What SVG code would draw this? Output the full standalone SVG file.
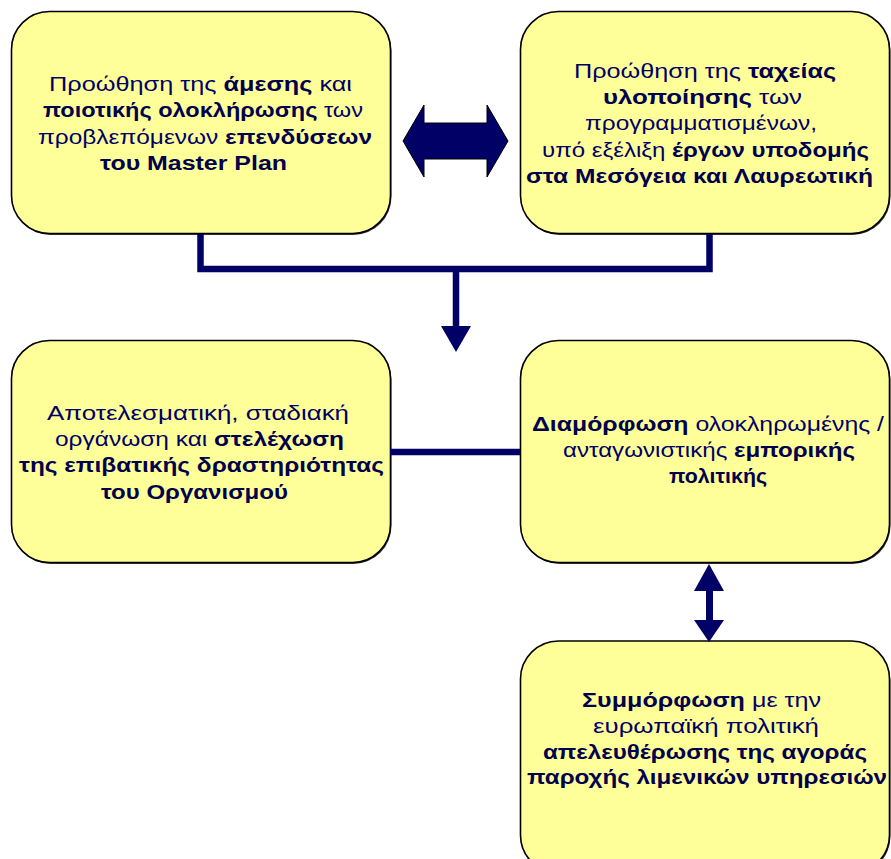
<svg xmlns="http://www.w3.org/2000/svg" width="891" height="859" viewBox="0 0 891 859">
  <style>
    .box { fill: #FFFF99; stroke: #000000; stroke-width: 1.6; }
    .shadow { fill: #3a3a3a; }
    .t { font-family: "Liberation Sans", Arial, sans-serif; font-size: 19.5px; fill: #000066; }
    .b { font-weight: bold; fill: #00004d; }
    .line { fill: none; stroke: #000066; stroke-width: 6.5; }
    .head { fill: #000066; }
    .fat { fill: #000066; stroke: #000000; stroke-width: 1; stroke-linejoin: miter; }
  </style>

  <rect width="891" height="859" fill="#ffffff"/>

  <!-- top left -->
  <g id="node-master-plan">
    <rect class="shadow" x="12.5" y="13" width="379" height="222" rx="38"/>
    <rect class="box" x="11.5" y="11.5" width="379" height="222" rx="38"/>
    <text class="t" x="49" y="91" textLength="303" lengthAdjust="spacingAndGlyphs">Προώθηση της <tspan class="b">άμεσης</tspan> και</text>
    <text class="t" x="43" y="117.3" textLength="320" lengthAdjust="spacingAndGlyphs"><tspan class="b">ποιοτικής ολοκλήρωσης</tspan> των</text>
    <text class="t" x="38" y="143.6" textLength="334" lengthAdjust="spacingAndGlyphs">προβλεπόμενων <tspan class="b">επενδύσεων</tspan></text>
    <text class="t" x="100" y="170" textLength="187" lengthAdjust="spacingAndGlyphs"><tspan class="b">του Master Plan</tspan></text>
  </g>

  <!-- top right -->
  <g id="node-infrastructure">
    <rect class="shadow" x="521.5" y="13" width="369" height="222" rx="38"/>
    <rect class="box" x="520.5" y="11.5" width="369" height="222" rx="38"/>
    <text class="t" x="574" y="78" textLength="262" lengthAdjust="spacingAndGlyphs">Προώθηση της <tspan class="b">ταχείας</tspan></text>
    <text class="t" x="603" y="104.2" textLength="199" lengthAdjust="spacingAndGlyphs"><tspan class="b">υλοποίησης</tspan> των</text>
    <text class="t" x="585" y="130.4" textLength="232" lengthAdjust="spacingAndGlyphs">προγραμματισμένων,</text>
    <text class="t" x="542" y="156.6" textLength="327" lengthAdjust="spacingAndGlyphs">υπό εξέλιξη <tspan class="b">έργων υποδομής</tspan></text>
    <text class="t" x="526" y="182.8" textLength="347" lengthAdjust="spacingAndGlyphs"><tspan class="b">στα Μεσόγεια και Λαυρεωτική</tspan></text>
  </g>

  <!-- middle left -->
  <g id="node-passenger">
    <rect class="shadow" x="12.5" y="342" width="379" height="222" rx="38"/>
    <rect class="box" x="11.5" y="340.5" width="379" height="222" rx="38"/>
    <text class="t" x="47" y="420" textLength="302" lengthAdjust="spacingAndGlyphs">Αποτελεσματική, σταδιακή</text>
    <text class="t" x="55" y="446.2" textLength="289" lengthAdjust="spacingAndGlyphs">οργάνωση και <tspan class="b">στελέχωση</tspan></text>
    <text class="t" x="19" y="472.4" textLength="365" lengthAdjust="spacingAndGlyphs"><tspan class="b">της επιβατικής δραστηριότητας</tspan></text>
    <text class="t" x="101" y="498.6" textLength="187" lengthAdjust="spacingAndGlyphs"><tspan class="b">του Οργανισμού</tspan></text>
  </g>

  <!-- middle right -->
  <g id="node-commercial">
    <rect class="shadow" x="521.5" y="342" width="369" height="222" rx="38"/>
    <rect class="box" x="520.5" y="340.5" width="369" height="222" rx="38"/>
    <text class="t" x="532" y="431" textLength="352" lengthAdjust="spacingAndGlyphs"><tspan class="b">Διαμόρφωση</tspan> ολοκληρωμένης /</text>
    <text class="t" x="563" y="457.2" textLength="292" lengthAdjust="spacingAndGlyphs">ανταγωνιστικής <tspan class="b">εμπορικής</tspan></text>
    <text class="t" x="669" y="483.4" textLength="98" lengthAdjust="spacingAndGlyphs"><tspan class="b">πολιτικής</tspan></text>
  </g>

  <!-- bottom right -->
  <g id="node-compliance">
    <rect class="shadow" x="521.5" y="642.5" width="369" height="232" rx="38"/>
    <rect class="box" x="520.5" y="641" width="369" height="232" rx="38"/>
    <text class="t" x="582" y="706.7" textLength="239" lengthAdjust="spacingAndGlyphs"><tspan class="b">Συμμόρφωση</tspan> με την</text>
    <text class="t" x="593" y="732.7" textLength="226" lengthAdjust="spacingAndGlyphs">ευρωπαϊκή πολιτική</text>
    <text class="t" x="543" y="758.5" textLength="324" lengthAdjust="spacingAndGlyphs"><tspan class="b">απελευθέρωσης της αγοράς</tspan></text>
    <text class="t" x="527" y="784.3" textLength="360" lengthAdjust="spacingAndGlyphs"><tspan class="b">παροχής λιμενικών υπηρεσιών</tspan></text>
  </g>

  <g id="connectors">
    <!-- two-way block arrow between the top boxes -->
    <polygon class="fat" points="403,141 424,105 424,123 487,123 487,105 508,141 487,177 487,159 424,159 424,177"/>
    <!-- merge of the top boxes down into the middle row -->
    <path class="line" d="M200.5 234 V269 H709.5 V234"/>
    <path class="line" d="M456 269 V330"/>
    <polygon class="head" points="441,326 471,326 456,352"/>
    <!-- link between the middle boxes -->
    <path class="line" d="M390 452 H520"/>
    <!-- two-way arrow to the bottom box -->
    <path class="line" d="M709.5 589 V622" style="stroke-width:7"/>
    <polygon class="head" points="694,591 724,591 709,564"/>
    <polygon class="head" points="694,620 724,620 709,642"/>
  </g>
</svg>
